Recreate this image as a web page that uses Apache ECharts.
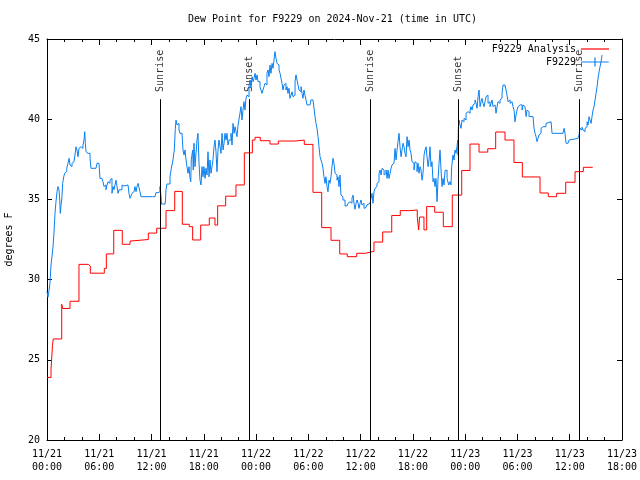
<!DOCTYPE html>
<html><head><meta charset="utf-8">
<script src="https://cdn.jsdelivr.net/npm/echarts@6/dist/echarts.min.js"></script>
<style>html,body{margin:0;padding:0;background:#fff}#c{width:640px;height:480px}</style>
</head><body><div id="c"></div>
<script>
// x values are hours since 2024-11-21 00:00 UTC
const xTickLabels = ['11/21\n00:00','11/21\n06:00','11/21\n12:00','11/21\n18:00','11/22\n00:00','11/22\n06:00','11/22\n12:00','11/22\n18:00','11/23\n00:00','11/23\n06:00','11/23\n12:00','11/23\n18:00'];
const yTicks = [20,25,30,35,40,45];
const sunHours = [13.0, 23.22, 37.11, 47.18, 61.14];
const sunNames = ['Sunrise','Sunset','Sunrise','Sunset','Sunrise'];

const analysisDew = [[0.00,23.9],[0.46,24.4],[0.63,25.9],[0.72,26.3],[1.69,28.46],[1.80,28.2],[2.64,28.65],[3.67,30.95],[4.74,30.85],[4.97,30.4],[6.58,30.7],[6.81,31.6],[7.66,33.07],[8.64,32.2],[9.53,32.4],[9.64,32.5],[11.63,32.9],[12.59,33.2],[13.66,34.3],[14.66,35.5],[15.53,33.45],[16.33,33.3],[16.72,32.47],[17.64,33.4],[18.63,33.84],[19.28,33.4],[19.59,34.6],[20.51,35.2],[21.69,35.9],[22.65,37.9],[23.57,38.7],[23.88,38.87],[24.48,38.66],[25.6,38.45],[26.55,38.64],[28.55,38.7],[29.53,38.43],[30.53,35.44],[31.53,33.24],[32.6,32.45],[33.6,31.6],[34.47,31.43],[35.55,31.64],[36.54,31.76],[37.53,32.34],[38.53,32.97],[39.57,34.0],[40.55,34.3],[41.59,34.34],[42.5,33.9],[42.66,33.1],[42.76,33.9],[43.27,33.1],[43.58,34.55],[44.5,34.2],[45.49,33.3],[46.52,35.27],[47.6,36.8],[48.55,38.45],[49.59,37.95],[50.59,38.16],[51.5,39.2],[52.57,38.7],[53.6,37.3],[54.56,36.4],[56.59,35.4],[57.54,35.17],[58.5,35.38],[59.54,36.07],[60.61,36.73],[61.56,37.0],[62.64,37.0]];

const stationDew = [[0.00,29.25],[0.11,28.9],[0.23,29.3],[0.34,29.77],[0.46,30.9],[0.57,31.43],[0.69,32.05],[0.80,32.9],[0.92,34.13],[1.03,34.86],[1.15,35.48],[1.26,35.8],[1.38,35.6],[1.46,34.96],[1.53,34.13],[1.61,34.65],[1.69,34.96],[1.80,36.0],[1.92,36.41],[2.03,36.63],[2.15,36.73],[2.26,36.94],[2.41,37.25],[2.53,37.56],[2.64,37.15],[2.75,37.04],[2.87,37.25],[2.98,37.35],[3.10,37.46],[3.21,37.77],[3.33,38.28],[3.44,38.08],[3.56,37.66],[3.67,38.18],[3.79,38.28],[3.90,38.39],[4.02,38.18],[4.13,38.39],[4.25,38.7],[4.33,39.22],[4.40,38.5],[4.48,37.97],[4.59,37.87],[4.71,37.97],[4.82,37.87],[4.94,37.56],[5.05,36.94],[5.62,36.94],[5.74,37.25],[5.97,37.25],[6.08,36.31],[6.31,36.31],[6.43,36.1],[6.54,35.8],[6.66,35.9],[6.77,35.6],[6.89,35.9],[7.00,36.1],[7.12,36.0],[7.23,36.2],[7.35,36.31],[7.46,35.38],[7.58,35.8],[7.69,35.6],[7.81,35.9],[7.92,36.2],[8.04,35.8],[8.15,35.38],[8.27,35.6],[8.38,35.69],[8.49,35.6],[8.61,35.9],[8.72,35.83],[8.84,35.8],[8.95,35.9],[9.30,35.8],[9.41,35.38],[9.53,35.07],[9.64,35.21],[9.76,35.38],[9.87,35.48],[9.99,35.6],[10.10,35.8],[10.22,35.48],[10.33,35.8],[10.45,36.0],[10.56,36.1],[10.67,35.48],[10.79,35.17],[12.13,35.17],[12.40,35.27],[12.51,35.42],[12.74,35.48],[12.97,35.8],[13.09,35.17],[13.14,34.71],[13.55,34.71],[13.60,34.96],[13.66,35.6],[13.77,35.96],[14.12,36.41],[14.27,36.94],[14.46,37.46],[14.61,38.08],[14.73,39.43],[14.81,39.95],[14.92,39.64],[15.04,39.74],[15.15,39.33],[15.27,39.12],[15.50,39.02],[15.61,38.08],[15.73,37.77],[15.84,38.08],[15.96,37.46],[16.07,37.04],[16.19,36.63],[16.30,37.04],[16.42,36.31],[16.50,36.1],[16.56,37.46],[16.72,38.08],[16.79,36.83],[16.87,38.5],[16.99,37.04],[17.10,37.87],[17.22,38.7],[17.33,39.12],[17.45,37.25],[17.56,36.2],[17.68,35.9],[17.79,37.04],[17.91,36.41],[18.02,37.04],[18.14,36.31],[18.25,36.94],[18.37,36.52],[18.48,37.97],[18.60,36.41],[18.71,37.46],[18.83,36.63],[18.94,37.04],[19.05,37.46],[19.17,38.28],[19.28,38.7],[19.40,37.97],[19.51,36.73],[19.63,38.08],[19.74,38.7],[19.86,38.28],[19.97,37.87],[20.09,39.12],[20.20,38.08],[20.32,38.5],[20.43,39.12],[20.55,38.7],[20.66,39.12],[20.78,38.39],[20.89,38.7],[21.12,39.12],[21.24,38.39],[21.35,39.74],[21.47,39.12],[21.58,39.53],[21.70,39.22],[21.81,38.91],[21.93,39.64],[22.04,39.53],[22.15,40.37],[22.27,40.78],[22.38,39.95],[22.50,40.57],[22.61,41.09],[22.73,40.57],[22.84,41.3],[22.96,41.5],[23.07,41.4],[23.19,42.13],[23.30,42.44],[23.42,41.93],[23.53,42.65],[23.65,42.34],[23.76,42.55],[23.88,42.86],[23.99,42.44],[24.11,42.76],[24.22,42.34],[24.34,42.34],[24.45,42.03],[24.56,41.82],[24.68,41.61],[24.79,41.82],[24.91,42.03],[25.02,42.24],[25.14,42.13],[25.25,42.86],[25.37,43.07],[25.48,42.65],[25.60,43.38],[25.71,42.86],[25.83,43.48],[25.94,43.17],[26.06,43.69],[26.17,44.21],[26.29,43.79],[26.40,43.48],[26.52,43.38],[26.63,43.07],[26.75,42.86],[26.86,42.55],[26.97,42.24],[27.09,41.82],[27.20,42.13],[27.32,42.24],[27.43,41.82],[27.55,42.03],[27.66,41.61],[27.78,41.93],[27.89,41.3],[28.01,41.5],[28.12,41.71],[28.24,41.4],[28.35,41.5],[28.47,42.34],[28.58,42.76],[28.70,42.44],[28.81,42.13],[28.93,41.82],[29.04,41.71],[29.16,42.03],[29.27,41.61],[29.38,41.3],[29.50,41.82],[29.61,41.5],[29.73,41.2],[29.84,40.89],[30.19,40.89],[30.30,41.2],[30.53,41.2],[30.65,40.68],[30.76,40.16],[30.88,39.74],[30.99,39.43],[31.11,38.91],[31.22,38.28],[31.34,37.66],[31.45,37.46],[31.57,37.25],[31.68,36.94],[31.79,36.41],[31.91,36.0],[32.02,36.41],[32.14,35.8],[32.25,35.48],[32.37,36.2],[32.48,36.0],[32.60,36.41],[32.71,37.04],[32.83,37.56],[32.94,37.25],[33.06,36.63],[33.17,36.52],[33.29,36.2],[33.40,36.41],[33.52,35.8],[33.63,36.52],[33.74,35.27],[33.86,35.17],[33.97,34.96],[34.21,34.59],[34.44,34.59],[34.55,34.76],[34.67,34.86],[34.78,34.96],[34.90,34.76],[35.01,35.07],[35.13,35.27],[35.24,34.76],[35.36,34.38],[35.47,34.76],[35.59,34.96],[35.70,34.76],[35.82,34.44],[35.93,34.76],[36.04,34.96],[36.16,34.65],[36.27,34.76],[36.39,34.44],[36.50,34.5],[36.62,34.55],[36.73,34.65],[36.85,34.76],[37.08,34.86],[37.19,35.07],[37.31,35.38],[37.42,34.76],[37.54,35.48],[37.65,35.69],[37.77,35.8],[37.88,36.0],[38.00,36.1],[38.11,36.63],[38.23,36.83],[38.34,36.52],[38.46,36.94],[38.57,36.83],[38.69,36.52],[38.80,36.63],[38.92,36.83],[39.03,36.31],[39.15,36.83],[39.26,36.31],[39.38,36.63],[39.49,36.94],[39.60,37.15],[39.72,37.25],[39.83,37.35],[39.95,38.18],[40.06,37.46],[40.18,38.08],[40.29,38.6],[40.41,39.12],[40.52,38.28],[40.64,37.66],[40.75,38.08],[40.87,38.5],[40.98,38.28],[41.10,37.87],[41.21,37.66],[41.33,38.91],[41.44,38.28],[41.56,38.7],[41.67,38.08],[41.78,37.87],[41.90,37.35],[42.01,37.25],[42.13,36.83],[42.24,37.35],[42.36,37.25],[42.47,36.73],[42.59,37.25],[42.70,36.63],[42.82,37.04],[42.93,36.83],[43.05,36.2],[43.16,36.63],[43.28,37.77],[43.39,38.08],[43.51,38.28],[43.62,37.66],[43.74,37.04],[43.85,37.46],[43.96,38.28],[44.08,37.04],[44.19,37.35],[44.31,36.1],[44.42,36.31],[44.54,35.8],[44.65,36.31],[44.77,34.86],[44.88,36.2],[45.00,37.25],[45.11,38.08],[45.23,36.83],[45.34,35.8],[45.46,36.31],[45.57,35.9],[45.69,36.8],[45.80,36.83],[45.92,36.31],[46.03,36.2],[46.11,35.9],[46.26,36.1],[46.37,35.9],[46.45,37.04],[46.52,36.94],[46.60,37.77],[46.72,37.46],[46.83,38.08],[46.95,37.87],[47.06,38.28],[47.14,38.7],[47.18,37.77],[47.21,39.33],[47.29,39.95],[47.41,39.64],[47.52,39.43],[47.64,39.95],[47.75,39.84],[47.87,40.06],[47.98,39.95],[48.10,40.37],[48.21,40.47],[48.33,40.57],[48.44,40.37],[48.56,40.57],[48.67,40.78],[48.79,40.57],[48.90,40.89],[49.02,40.99],[49.13,41.2],[49.25,40.99],[49.36,40.68],[49.48,41.4],[49.59,41.82],[49.71,40.78],[49.82,41.09],[49.93,41.3],[50.05,40.99],[50.16,40.78],[50.28,41.09],[50.39,41.4],[50.51,41.5],[50.62,40.99],[50.74,41.09],[50.85,40.78],[50.97,40.99],[51.08,41.2],[51.20,40.78],[51.31,40.89],[51.43,40.78],[51.54,40.37],[51.66,40.78],[51.77,41.09],[51.89,40.99],[52.00,41.2],[52.11,41.3],[52.23,41.61],[52.34,42.13],[52.57,42.13],[52.69,41.82],[52.80,41.5],[52.92,41.09],[53.03,41.2],[53.15,40.99],[53.26,41.09],[53.38,40.99],[53.49,40.78],[53.61,40.57],[53.72,39.84],[53.84,40.26],[53.95,40.57],[54.07,40.78],[54.18,40.89],[54.30,40.78],[54.41,40.89],[54.53,40.57],[54.64,40.89],[54.76,40.78],[54.87,40.68],[54.99,40.16],[55.10,40.57],[55.22,40.47],[55.33,40.16],[55.79,40.16],[55.90,39.43],[56.02,39.12],[56.13,38.91],[56.25,38.6],[56.36,38.81],[56.48,39.02],[56.59,39.12],[56.71,39.43],[56.82,39.53],[56.94,39.43],[57.05,39.53],[57.28,39.74],[57.40,39.84],[57.86,39.84],[57.97,39.12],[59.23,39.12],[59.35,39.43],[59.46,39.12],[59.58,38.5],[59.81,38.5],[59.92,38.7],[60.04,38.8],[60.95,38.75],[61.07,39.02],[61.18,39.43],[61.30,39.33],[61.41,39.5],[61.53,39.33],[61.64,39.22],[61.76,39.43],[61.87,39.53],[61.99,39.84],[62.10,39.64],[62.22,40.16],[62.33,39.95],[62.45,39.74],[62.56,40.16],[62.68,40.57],[62.79,40.78],[62.91,41.2],[63.02,41.61],[63.14,42.03],[63.25,42.55],[63.37,42.96],[63.48,43.27],[63.60,43.58],[63.71,44.0]];

const FONT = 'DejaVu Sans Mono';
const chart = echarts.init(document.getElementById('c'), null, {renderer: 'canvas'});

const sunLines = sunHours.map(t => [{coord: [t, 41.25]}, {coord: [t, 20]}]);
const sunLabels = sunHours.map((t, i) => ({value: [t, 41.7], name: sunNames[i]}));

const axisCommon = {
  type: 'value', min: 0, max: 66, interval: 6,
  axisLine: {show: true, onZero: false, lineStyle: {color: '#000', width: 1}},
  axisTick: {show: true, inside: true, length: 6, lineStyle: {color: '#000'}},
  minorTick: {show: true, splitNumber: 3, length: 3, lineStyle: {color: '#000'}},
  splitLine: {show: false}, minorSplitLine: {show: false}
};
const yCommon = {
  type: 'value', min: 20, max: 45, interval: 5,
  axisLine: {show: true, onZero: false, lineStyle: {color: '#000', width: 1}},
  axisTick: {show: true, inside: true, length: 5, lineStyle: {color: '#000'}},
  splitLine: {show: false}
};

chart.setOption({
  animation: false,
  backgroundColor: '#fff',
  title: {
    text: 'Dew Point for F9229 on 2024-Nov-21 (time in UTC)',
    left: 188, top: 14, padding: 0,
    textStyle: {fontFamily: FONT, fontSize: 10, fontWeight: 'normal', color: '#000'}
  },
  legend: {
    orient: 'vertical', right: 26, top: 39, align: 'right',
    itemWidth: 28, itemHeight: 9, itemGap: 3,
    textStyle: {fontFamily: FONT, fontSize: 10, color: '#000'},
    data: [
      {name: 'F9229 Analysis', icon: 'path://M0,4h28v1.2H0z'},
      {name: 'F9229', icon: 'path://M0,4h28v1.2H0z M13.4,0h1.2v9.2h-1.2z'}
    ]
  },
  grid: {left: 47, right: 18, top: 39, bottom: 40, containLabel: false, outerBoundsMode: 'none'},
  xAxis: [
    Object.assign({}, axisCommon, {
      position: 'bottom',
      axisLabel: {
        fontFamily: FONT, fontSize: 10, color: '#000', margin: 8, lineHeight: 13,
        formatter: v => xTickLabels[Math.round(v / 6)] || ''
      }
    }),
    Object.assign({}, axisCommon, {position: 'top', axisLabel: {show: false}})
  ],
  yAxis: [
    Object.assign({}, yCommon, {
      position: 'left',
      name: 'degrees F', nameLocation: 'middle', nameGap: 33, nameRotate: 90,
      nameTextStyle: {fontFamily: FONT, fontSize: 10, color: '#000'},
      axisLabel: {fontFamily: FONT, fontSize: 10, color: '#000', margin: 7,
        formatter: v => yTicks.indexOf(v) >= 0 ? String(v) : ''}
    }),
    Object.assign({}, yCommon, {position: 'right', axisLabel: {show: false}})
  ],
  series: [
    {
      name: 'F9229 Analysis', type: 'line', step: 'end', data: analysisDew,
      showSymbol: false, symbol: 'none', color: '#ff0000',
      lineStyle: {color: '#ff0000', width: 1}, z: 3,
      markLine: {
        silent: true, symbol: ['none', 'none'], animation: false,
        lineStyle: {color: '#000', width: 1, type: 'solid'},
        label: {show: false},
        data: sunLines
      }
    },
    {
      name: 'F9229', type: 'line', step: 'end', data: stationDew,
      showSymbol: false, symbol: 'none', color: '#0a80f0',
      lineStyle: {color: '#0a80f0', width: 1}, z: 4
    },
    {
      name: 'sun', type: 'scatter', data: sunLabels, symbolSize: 1,
      itemStyle: {color: 'rgba(0,0,0,0)'}, silent: true,
      label: {
        show: true, position: 'inside', rotate: 90, align: 'left', verticalAlign: 'middle',
        fontFamily: FONT, fontSize: 10, color: '#000',
        formatter: p => p.name
      }
    }
  ]
});
</script>
</body></html>
